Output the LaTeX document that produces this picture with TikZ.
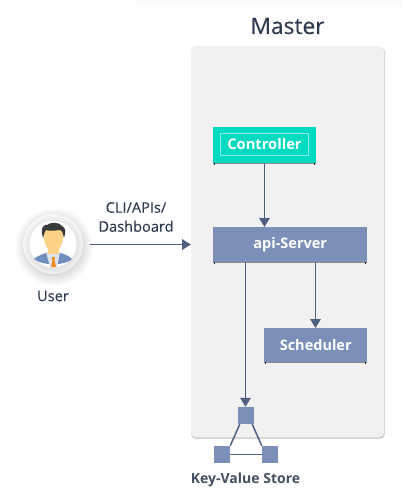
\documentclass[tikz,border=0pt]{standalone}
\usepackage{fontspec}
\setmainfont{Open Sans}
\newfontfamily\medfont[FakeBold=0.25]{Open Sans}
\usetikzlibrary{arrows.meta,calc}
\definecolor{panelc}{HTML}{F1F1F2}
\definecolor{boxc}{HTML}{7B8FB8}
\definecolor{tealc}{HTML}{00DAC0}
\definecolor{linec}{HTML}{4F5F7F}
\definecolor{textc}{HTML}{2F3B50}
\definecolor{skinc}{HTML}{FBD286}
\definecolor{hairc}{HTML}{3A3A3A}
\definecolor{suitc}{HTML}{6F8DBD}
\definecolor{tiec}{HTML}{F08A1D}
\definecolor{shirtc}{HTML}{DCE3EC}
\tikzset{
  x=1pt,y=-1pt,
  blockbox/.style={fill=boxc,draw=none,text=white,font=\fontsize{14.5}{17}\selectfont\bfseries,inner sep=0pt,anchor=north west},
  kvbox/.style={fill=boxc,draw=none,inner sep=0pt,minimum width=16pt,minimum height=17pt,anchor=center},
  conn/.style={draw=linec,line width=1.6pt,-{Triangle[width=10.5pt,length=9pt]}},
  link/.style={draw=linec,line width=1.5pt},
  lab/.style={text=textc,font=\fontsize{14.6}{19}\medfont,align=center,inner sep=0pt},
  under/.style={draw=black!45,line width=1pt},
  tick/.style={draw=black!85,line width=.9pt}
}
\begin{document}
\begin{tikzpicture}
\useasboundingbox (0,0) rectangle (402,489);
\fill[white] (0,0) rectangle (402,489);
% faint top strip
\fill[black!1.5] (135,0) rectangle (402,4);
\fill[black!0.8] (130,4) rectangle (402,9);
% panel
\fill[black!16,rounded corners=5pt] (191,47) rectangle (385,439);
\fill[panelc,rounded corners=5pt] (191,46) rectangle (384,437);
\node[text=textc,font=\fontsize{22.7}{26}\medfont,inner sep=0pt] (master) at (287.5,26) {Master};
% user halo
\foreach \r in {39,38,...,27}{
  \fill[black,opacity=.012] (54,247) circle (\r);
}
\fill[black!3] (53,244) circle (30);
\foreach \r in {30,29,...,24}{
  \fill[black,opacity=.012] (53.5,245.5) circle (\r);
}
\node[circle,fill=white,minimum size=47pt,inner sep=0pt] (user) at (53,244) {};
% person
\fill[suitc] (34,259) .. controls (40,254) and (45,254) .. (48,252) -- (58,252) .. controls (62,254) and (67,254) .. (72,259) .. controls (65,266) and (42,266) .. (34,259) -- cycle;
\fill[shirtc] (46,252) -- (60,252) -- (57,267) -- (50,267) -- cycle;
\fill[skinc] (48,244) rectangle (59,254);
\fill[skinc] (53.5,224) .. controls (61,224) and (63.5,228) .. (63.5,234) .. controls (63.5,243) and (59,252) .. (53.5,252) .. controls (48,252) and (43.5,243) .. (43.5,234) .. controls (43.5,228) and (46,224) .. (53.5,224) -- cycle;
\fill[hairc] (43,238) .. controls (39,226) and (46,224) .. (47,225) .. controls (50,222) and (60,222) .. (62,226) .. controls (66,228) and (66,232) .. (64,238) .. controls (63,233) and (62,230) .. (59,230) .. controls (54,231) and (48,231) .. (46,230) .. controls (44,232) and (44,235) .. (43,238) -- cycle;
\fill[tiec] (51.5,257) -- (55,257) -- (54.5,260) -- (56,267) -- (51,267) -- (52.5,260) -- cycle;
\node[lab] (userlab) at (53,296) {User};
\node[lab] (cli) at (136,217) {CLI/APIs/\\Dashboard};
% shadows/ticks
\draw[under] (213,163.5) -- (316,163.5);
\draw[under] (213,262.5) -- (367,262.5);
\draw[under] (264,362.5) -- (367,362.5);
\foreach \x/\y in {214.5/163,314.5/163,214/262,365.5/262,265.5/362,365.5/362}{\draw[tick] (\x,\y) -- (\x,\y+2);}
% nodes
\node[blockbox,fill=tealc,minimum width=103pt,minimum height=36pt] (controller) at (213,127) {};
\node[draw=white!55!tealc,line width=.8pt,text=white,font=\fontsize{14.7}{17}\selectfont\bfseries,minimum width=88pt,minimum height=22pt,inner sep=0pt] (ctrllab) at (264.5,144) {Controller};
\node[blockbox,minimum width=154pt,minimum height=35pt] (api) at (213,227) {api-Server};
\node[blockbox,minimum width=103pt,minimum height=34pt] (sched) at (264,328) {Scheduler};
\node[kvbox] (kvtop) at (246,415.5) {};
\node[kvbox] (kvl) at (222,454.5) {};
\node[kvbox] (kvr) at (270,454.5) {};
\node[text=textc!90!white,font=\fontsize{14}{16}\selectfont\bfseries,inner sep=0pt] (kvlab) at (245.5,480) {Key-Value Store};
% connectors
\coordinate (ustart) at (90,244.5);
\coordinate (aleft) at (191,244.5);
\path[conn] (ustart) -- (aleft);
\coordinate (a1) at (264.5,163);
\path[conn] (a1) -- (a1 |- api.north);
\coordinate (a2) at (315.5,262);
\path[conn] (a2) -- (a2 |- sched.north);
\coordinate (a3) at (245.5,262);
\path[conn] (a3) -- (a3 |- kvtop.north);
\coordinate (t1) at ($(kvtop.south west)+(2,0)$);
\coordinate (t2) at ($(kvtop.south east)+(-2,0)$);
\path[link] (t1) -- (kvl.north east);
\path[link] (t2) -- (kvr.north west);
\path[link] (kvl.east) -- (kvr.west);
\end{tikzpicture}
\end{document}
